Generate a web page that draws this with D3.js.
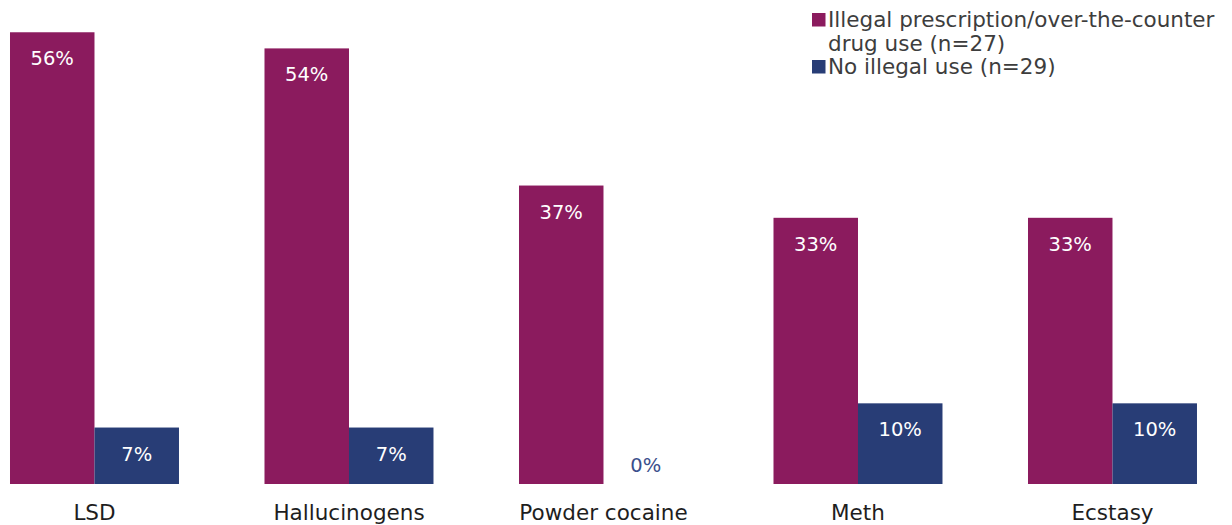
<!DOCTYPE html>
<html>
<head>
<meta charset="utf-8">
<script src="https://cdn.jsdelivr.net/npm/d3@7"></script>
<style>
  html, body { margin: 0; padding: 0; background: #fff; }
  svg { display: block; font-family: "DejaVu Sans", sans-serif; }
</style>
</head>
<body>
<svg id="chart" width="1232" height="525"></svg>
<script>
// Drug categories and the share (%) of each group that reported use
const categories = ["LSD", "Hallucinogens", "Powder cocaine", "Meth", "Ecstasy"];
const seriesNames = ["Illegal prescription/over-the-counter drug use (n=27)", "No illegal use (n=29)"];
const illegalUse = [56, 54, 37, 33, 33];
const noIllegalUse = [7, 7, 0, 10, 10];
const colors = ["#8b1b5e", "#283d76"];

const svg = d3.select("#chart");
const baseY = 484;

const x0 = d3.scaleBand()
  .domain(categories)
  .range([-32.76, 1239.74])
  .paddingInner(0.336)
  .paddingOuter(0.168);

const x1 = d3.scaleBand()
  .domain([0, 1])
  .range([0, x0.bandwidth()]);

const y = d3.scaleLinear().domain([0, 60]).range([baseY, 0]);

const rows = categories.map((c, i) => ({
  cat: c,
  vals: [illegalUse[i], noIllegalUse[i]]
}));

const groups = svg.append("g").selectAll("g")
  .data(rows)
  .join("g")
  .attr("transform", d => `translate(${x0(d.cat)},0)`);

groups.selectAll("rect")
  .data(d => d.vals.map((v, s) => ({ v, s })))
  .join("rect")
  .attr("x", d => x1(d.s))
  .attr("width", x1.bandwidth())
  .attr("y", d => y(d.v))
  .attr("height", d => baseY - y(d.v))
  .attr("fill", d => colors[d.s]);

// value labels: inside the top of each bar, above the baseline when empty
groups.selectAll("text.val")
  .data(d => d.vals.map((v, s) => ({ v, s })))
  .join("text")
  .attr("class", "val")
  .attr("x", d => x1(d.s) + x1.bandwidth() / 2)
  .attr("y", d => d.v > 0 ? y(d.v) + 33 : y(0) - 12)
  .attr("text-anchor", "middle")
  .attr("font-size", 19.5)
  .attr("fill", d => d.v > 0 ? "#ffffff" : "#3b4f8c")
  .text(d => d.v + "%");

// category axis
const xAxis = svg.append("g")
  .attr("transform", `translate(0,${baseY})`)
  .call(d3.axisBottom(x0).tickSize(0).tickPadding(0));
xAxis.select(".domain").remove();
xAxis.selectAll("text")
  .attr("dy", null)
  .attr("y", 36)
  .attr("font-size", 21.5)
  .attr("font-family", "DejaVu Sans, sans-serif")
  .attr("fill", "#1e1e1e");

// legend
const legend = svg.append("g").attr("transform", "translate(812,0)");
const legendLines = [
  ["Illegal prescription/over-the-counter", "drug use (n=27)"],
  ["No illegal use (n=29)"]
];
const legendTop = [13, 60];
legendLines.forEach((lines, i) => {
  legend.append("rect")
    .attr("x", 0).attr("y", legendTop[i])
    .attr("width", 13.5).attr("height", 13.5)
    .attr("fill", colors[i]);
  const t = legend.append("text")
    .attr("x", 16)
    .attr("y", legendTop[i] + 14)
    .attr("font-size", 21.5)
    .attr("fill", "#3d3d3d");
  lines.forEach((ln, j) => {
    t.append("tspan").attr("x", 16).attr("dy", j === 0 ? 0 : 24).text(ln);
  });
});
</script>
</body>
</html>
